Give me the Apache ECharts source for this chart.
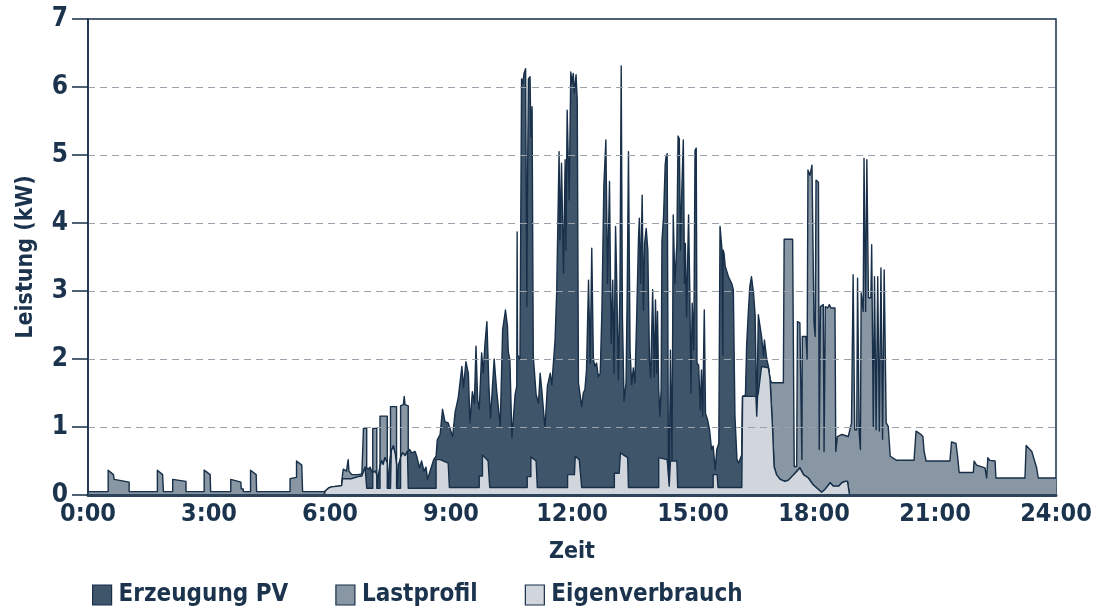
<!DOCTYPE html>
<html>
<head>
<meta charset="utf-8">
<script src="https://cdn.jsdelivr.net/npm/echarts@6/dist/echarts.min.js"></script>
<style>
  html, body { margin: 0; padding: 0; background: #ffffff; }
  #chart { width: 1100px; height: 613px; }
</style>
</head>
<body>
<div id="chart"></div>
<script>
// Tick labels of the time axis (every 3 hours)
const timeLabels = ['0:00', '3:00', '6:00', '9:00', '12:00', '15:00', '18:00', '21:00', '24:00'];

// PV generation in kW, [hour, value]
const pvData = [
  [0,0],[5.86,0],[5.88,0.06],[5.96,0.10],[6.04,0.12],[6.21,0.13],[6.29,0.14],[6.31,0.24],[6.54,0.24],[6.70,0.27],
  [6.79,0.28],[6.83,0.30],[6.87,0.41],[6.91,0.43],[6.95,0.38],[6.99,0.41],[7.03,0.36],[7.06,0.33],[7.12,0.35],[7.16,0.30],
  [7.17,0.12],[7.20,0.30],[7.24,0.42],[7.28,0.50],[7.32,0.45],[7.36,0.55],[7.42,0.47],[7.45,0.12],[7.48,0.50],[7.52,0.65],
  [7.57,0.72],[7.62,0.60],[7.65,0.45],[7.67,0.13],[7.70,0.45],[7.75,0.55],[7.80,0.62],[7.86,0.58],[7.92,0.64],[7.97,0.67],
  [8.03,0.62],[8.11,0.64],[8.15,0.57],[8.22,0.40],[8.27,0.50],[8.33,0.35],[8.38,0.41],[8.42,0.23],[8.48,0.35],[8.57,0.52],
  [8.63,0.57],[8.66,0.81],[8.73,0.89],[8.79,1.26],[8.85,1.08],[8.93,1.06],[9.04,0.86],[9.10,1.21],[9.18,1.43],[9.27,1.89],
  [9.31,1.58],[9.37,1.96],[9.43,1.79],[9.47,1.06],[9.53,1.52],[9.58,1.35],[9.62,2.19],[9.66,1.40],[9.70,1.26],[9.76,2.09],
  [9.80,1.79],[9.84,2.21],[9.89,2.55],[9.94,1.60],[9.98,1.13],[10.07,2.00],[10.13,1.55],[10.22,1.01],[10.28,2.43],[10.35,2.72],
  [10.40,2.48],[10.42,2.11],[10.46,1.99],[10.51,0.84],[10.59,1.48],[10.63,1.60],[10.64,3.87],[10.65,2.06],[10.71,1.99],[10.75,6.12],
  [10.78,6.05],[10.81,6.20],[10.85,6.27],[10.88,2.77],[10.90,4.78],[10.92,6.12],[10.96,6.15],[10.98,5.27],[11.01,5.71],[11.04,2.04],
  [11.11,1.48],[11.17,1.35],[11.21,1.79],[11.25,1.55],[11.33,0.98],[11.39,1.60],[11.46,1.79],[11.50,1.62],[11.58,2.28],[11.62,2.97],
  [11.68,5.05],[11.70,3.75],[11.74,4.88],[11.79,3.26],[11.83,4.93],[11.85,3.60],[11.88,5.66],[11.93,4.34],[11.97,6.22],[12.00,6.05],
  [12.03,6.20],[12.06,5.91],[12.10,6.18],[12.13,5.81],[12.16,1.65],[12.24,1.30],[12.28,1.50],[12.32,1.55],[12.36,1.84],[12.41,3.16],
  [12.45,1.94],[12.49,3.63],[12.53,1.99],[12.57,1.89],[12.61,1.94],[12.65,1.74],[12.70,1.79],[12.74,2.67],[12.79,4.56],[12.84,5.22],
  [12.88,3.11],[12.93,4.61],[12.97,2.23],[13.01,3.16],[13.04,1.79],[13.08,3.95],[13.11,3.11],[13.15,1.69],[13.19,3.11],[13.22,6.31],
  [13.25,2.62],[13.29,1.38],[13.34,1.65],[13.37,3.02],[13.40,5.05],[13.44,2.13],[13.48,1.62],[13.52,1.87],[13.56,1.65],[13.60,2.53],
  [13.65,3.80],[13.67,4.07],[13.70,3.11],[13.74,4.41],[13.77,2.72],[13.80,3.70],[13.84,3.92],[13.88,3.60],[13.92,1.99],[13.95,1.72],
  [14.00,3.02],[14.04,1.74],[14.07,2.87],[14.10,1.79],[14.12,2.70],[14.15,1.55],[14.18,1.16],[14.21,1.55],[14.23,3.73],[14.27,4.09],
  [14.31,4.85],[14.33,4.97],[14.36,5.02],[14.39,0.52],[14.41,0.13],[14.44,2.13],[14.48,0.52],[14.51,4.12],[14.55,3.11],[14.60,3.70],
  [14.63,5.28],[14.66,5.24],[14.69,3.60],[14.72,4.44],[14.76,5.22],[14.79,3.11],[14.81,3.70],[14.84,2.62],[14.89,4.12],[14.92,3.02],
  [14.95,1.50],[14.98,2.82],[15.02,2.13],[15.05,5.07],[15.08,5.10],[15.10,1.94],[15.14,1.91],[15.18,1.25],[15.21,1.84],[15.24,1.16],
  [15.28,2.72],[15.31,1.20],[15.36,1.11],[15.41,0.96],[15.46,0.67],[15.50,0.72],[15.55,0.37],[15.59,0.67],[15.64,0.76],[15.67,3.95],
  [15.70,3.97],[15.72,3.60],[15.74,2.06],[15.75,3.60],[15.77,3.55],[15.80,3.36],[15.88,3.21],[15.96,3.11],[16.00,3.02],[16.04,1.16],
  [16.09,0.52],[16.13,0.47],[16.17,0.49],[16.21,0.59],[16.23,1.45],[16.30,1.47],[16.33,2.20],[16.37,2.67],[16.41,3.07],[16.45,3.21],
  [16.50,2.97],[16.54,2.65],[16.58,1.16],[16.62,2.65],[16.70,2.33],[16.75,2.04],[16.77,2.28],[16.83,1.99],[16.87,1.89],[16.91,1.70],
  [16.97,1.01],[17.01,0.42],[17.07,0.30],[17.16,0.23],[17.28,0.20],[17.37,0.22],[17.45,0.27],[17.53,0.32],[17.61,0.37],[17.65,0.40],
  [17.74,0.30],[17.86,0.25],[17.98,0.15],[18.11,0.08],[18.19,0.04],[18.27,0.08],[18.40,0.18],[18.48,0.13],[18.61,0.13],[18.69,0.18],
  [18.77,0.20],[18.83,0.20],[18.88,0],[24,0]
];

// Household load profile in kW, [hour, value]
const lastData = [
  [0,0.05],[0.50,0.05],[0.50,0.365],[0.63,0.30],[0.65,0.23],[1.02,0.19],[1.02,0.05],[1.72,0.05],[1.72,0.365],[1.85,0.30],
  [1.87,0.05],[2.10,0.05],[2.10,0.23],[2.43,0.20],[2.43,0.05],[2.88,0.05],[2.88,0.365],[3.03,0.30],[3.04,0.05],[3.54,0.05],
  [3.54,0.23],[3.79,0.19],[3.80,0.09],[3.85,0.09],[3.85,0.05],[4.03,0.05],[4.03,0.365],[4.17,0.30],[4.18,0.05],[5.01,0.05],
  [5.01,0.24],[5.17,0.26],[5.17,0.50],[5.30,0.44],[5.32,0.44],[5.32,0.05],[5.88,0.05],[5.96,0.10],[6.04,0.12],[6.21,0.13],
  [6.29,0.14],[6.31,0.30],[6.33,0.38],[6.37,0.40],[6.41,0.35],[6.44,0.35],[6.45,0.52],[6.47,0.35],[6.54,0.30],[6.62,0.30],
  [6.70,0.30],[6.79,0.31],[6.83,0.31],[6.83,0.98],[6.91,0.98],[6.91,0.10],[7.06,0.10],[7.06,0.98],[7.16,0.98],[7.16,0.10],
  [7.24,0.10],[7.24,1.16],[7.42,1.16],[7.42,0.10],[7.50,0.10],[7.50,1.30],[7.65,1.30],[7.65,0.10],[7.75,0.10],[7.75,1.31],
  [7.82,1.33],[7.84,1.45],[7.86,1.33],[7.94,1.31],[7.94,0.10],[8.63,0.10],[8.63,0.52],[8.73,0.52],[8.93,0.47],[8.96,0.11],
  [9.70,0.11],[9.70,0.28],[9.78,0.28],[9.78,0.59],[9.92,0.50],[9.96,0.11],[10.89,0.11],[10.89,0.27],[10.98,0.27],[10.98,0.56],
  [11.11,0.50],[11.14,0.11],[11.89,0.11],[11.89,0.30],[12.06,0.30],[12.08,0.57],[12.18,0.52],[12.24,0.11],[13.05,0.11],[13.05,0.32],
  [13.17,0.32],[13.20,0.62],[13.38,0.55],[13.40,0.11],[14.15,0.11],[14.15,0.55],[14.60,0.50],[14.62,0.11],[15.50,0.11],[15.50,0.30],
  [15.60,0.30],[15.62,0.11],[16.21,0.11],[16.23,1.45],[16.58,1.45],[16.70,1.89],[16.87,1.87],[16.91,1.70],[16.95,1.65],[17.24,1.65],
  [17.26,3.76],[17.47,3.76],[17.51,0.42],[17.57,0.42],[17.59,2.55],[17.65,2.53],[17.69,2.53],[17.70,0.52],[17.71,2.33],[17.80,2.33],
  [17.83,2.00],[17.85,4.78],[17.90,4.70],[17.95,4.85],[17.97,4.85],[18.00,2.53],[18.03,2.33],[18.05,4.63],[18.11,4.60],[18.13,0.67],
  [18.16,2.77],[18.23,2.80],[18.25,0.64],[18.28,2.77],[18.34,2.75],[18.38,2.80],[18.42,2.75],[18.52,2.75],[18.54,0.64],[18.58,0.86],
  [18.69,0.89],[18.85,0.86],[18.93,1.06],[18.96,1.06],[18.97,3.24],[19.00,3.24],[19.01,0.96],[19.06,0.96],[19.08,3.19],[19.10,3.19],
  [19.12,0.92],[19.15,0.67],[19.17,2.97],[19.19,2.97],[19.22,2.70],[19.24,4.95],[19.26,4.95],[19.28,2.70],[19.31,4.93],[19.33,4.93],
  [19.35,2.90],[19.41,2.90],[19.43,3.68],[19.45,3.68],[19.47,1.00],[19.50,3.21],[19.52,3.21],[19.54,0.96],[19.58,3.21],[19.60,3.21],
  [19.62,0.94],[19.66,3.34],[19.68,3.34],[19.70,0.82],[19.74,3.31],[19.76,3.31],[19.79,1.06],[19.84,1.01],[19.89,0.57],[19.93,0.55],
  [20.05,0.51],[20.48,0.51],[20.53,0.94],[20.63,0.90],[20.70,0.86],[20.73,0.64],[20.78,0.50],[21.37,0.50],[21.41,0.78],[21.52,0.76],
  [21.56,0.57],[21.60,0.33],[21.95,0.33],[21.97,0.50],[22.03,0.44],[22.24,0.40],[22.28,0.25],[22.31,0.55],[22.36,0.51],[22.49,0.50],
  [22.51,0.25],[23.23,0.25],[23.26,0.73],[23.40,0.64],[23.52,0.40],[23.56,0.25],[24,0.25]
];

// Self-consumed PV power in kW, [hour, value]
const eigenData = [
  [0,0],[5.86,0],[5.88,0.06],[5.96,0.10],[6.04,0.12],[6.21,0.13],[6.29,0.14],[6.31,0.24],[6.54,0.24],[6.70,0.27],
  [6.79,0.28],[6.83,0.30],[6.87,0.41],[6.91,0.43],[6.91,0.10],[7.06,0.10],[7.06,0.33],[7.12,0.35],[7.16,0.30],[7.16,0.10],
  [7.24,0.10],[7.24,0.42],[7.28,0.50],[7.32,0.45],[7.36,0.55],[7.42,0.47],[7.42,0.10],[7.50,0.10],[7.52,0.65],[7.57,0.72],
  [7.62,0.60],[7.65,0.45],[7.65,0.10],[7.75,0.10],[7.75,0.55],[7.80,0.62],[7.86,0.58],[7.92,0.64],[7.94,0.64],[7.94,0.10],
  [8.63,0.10],[8.63,0.52],[8.73,0.52],[8.93,0.47],[8.96,0.11],[9.70,0.11],[9.70,0.28],[9.78,0.28],[9.78,0.59],[9.92,0.50],
  [9.96,0.11],[10.89,0.11],[10.89,0.27],[10.98,0.27],[10.98,0.56],[11.11,0.50],[11.14,0.11],[11.89,0.11],[11.89,0.30],[12.06,0.30],
  [12.08,0.57],[12.18,0.52],[12.24,0.11],[13.05,0.11],[13.05,0.32],[13.17,0.32],[13.20,0.62],[13.38,0.55],[13.40,0.11],[14.15,0.11],
  [14.15,0.55],[14.36,0.52],[14.39,0.50],[14.41,0.13],[14.44,0.50],[14.60,0.50],[14.62,0.11],[15.50,0.11],[15.50,0.30],[15.60,0.30],
  [15.62,0.11],[16.21,0.11],[16.23,1.45],[16.56,1.45],[16.58,1.16],[16.60,1.45],[16.62,1.50],[16.70,1.89],[16.87,1.87],[16.91,1.70],
  [16.97,1.01],[17.01,0.42],[17.07,0.30],[17.16,0.23],[17.28,0.20],[17.37,0.22],[17.45,0.27],[17.53,0.32],[17.61,0.37],[17.65,0.40],
  [17.74,0.30],[17.86,0.25],[17.98,0.15],[18.11,0.08],[18.19,0.04],[18.27,0.08],[18.40,0.18],[18.48,0.13],[18.61,0.13],[18.69,0.18],
  [18.77,0.20],[18.83,0.20],[18.88,0],[24,0]
];

const seriesNames = ['Erzeugung PV', 'Lastprofil', 'Eigenverbrauch'];

const INK = '#1b334d';
const OUTLINE = '#172f48';
const PV_FILL = '#3f556a';
const LAST_FILL = '#8996a3';
const EIGEN_FILL = '#d1d6dc';
const FONT = '"DejaVu Sans Condensed", "DejaVu Sans", sans-serif';

function areaSeries(name, data, fill, z) {
  return {
    name: name,
    type: 'line',
    data: data,
    symbol: 'none',
    z: z,
    silent: true,
    itemStyle: { color: fill },
    lineStyle: { color: OUTLINE, width: 1.4, join: 'round' },
    areaStyle: { color: fill, opacity: 1 },
    emphasis: { disabled: true }
  };
}

const chart = echarts.init(document.getElementById('chart'), null, { renderer: 'canvas' });

chart.setOption({
  animation: false,
  backgroundColor: '#ffffff',
  textStyle: { fontFamily: FONT, color: INK },
  grid: {
    left: 88, right: 44, top: 19, bottom: 118,
    show: true, borderColor: OUTLINE, borderWidth: 1.5, backgroundColor: 'transparent'
  },
  legend: {
    left: 87, top: 578,
    icon: 'rect',
    itemWidth: 19, itemHeight: 20, itemGap: 47,
    selectedMode: false,
    textStyle: { fontFamily: FONT, fontSize: 24, fontWeight: 'bold', color: INK, padding: [0, 0, 0, 2] },
    data: [
      { name: seriesNames[0], itemStyle: { color: PV_FILL, borderColor: OUTLINE, borderWidth: 1.2 } },
      { name: seriesNames[1], itemStyle: { color: LAST_FILL, borderColor: OUTLINE, borderWidth: 1.2 } },
      { name: seriesNames[2], itemStyle: { color: EIGEN_FILL, borderColor: OUTLINE, borderWidth: 1.2 } }
    ]
  },
  xAxis: {
    type: 'value',
    min: 0, max: 24, interval: 3,
    z: 10,
    name: 'Zeit',
    nameLocation: 'middle',
    nameGap: 46,
    nameTextStyle: { fontFamily: FONT, fontSize: 23, fontWeight: 'bold', color: INK },
    axisLine: { show: true, lineStyle: { color: '#2c4359', width: 3 } },
    axisTick: { show: false },
    splitLine: { show: false },
    axisLabel: {
      margin: 7,
      fontFamily: FONT, fontSize: 25, fontWeight: 'bold', color: INK,
      formatter: function (v) { return timeLabels[Math.round(v / 3)]; }
    }
  },
  yAxis: {
    type: 'value',
    min: 0, max: 7, interval: 1,
    z: 10,
    name: 'Leistung (kW)',
    nameLocation: 'middle',
    nameGap: 50,
    nameTextStyle: { fontFamily: FONT, fontSize: 23, fontWeight: 'bold', color: INK },
    axisLine: { show: true, lineStyle: { color: OUTLINE, width: 1.5 } },
    axisTick: { show: true, inside: false, length: 16, lineStyle: { color: OUTLINE, width: 1.5 } },
    splitLine: {
      show: true, showMinLine: false, showMaxLine: false,
      lineStyle: { color: '#9aa3ac', width: 1.2, type: [7, 5] }
    },
    axisLabel: { margin: 20, fontFamily: FONT, fontSize: 26, fontWeight: 'bold', color: INK }
  },
  series: [
    areaSeries(seriesNames[1], lastData, LAST_FILL, 2),
    areaSeries(seriesNames[0], pvData, PV_FILL, 3),
    areaSeries(seriesNames[2], eigenData, EIGEN_FILL, 4)
  ]
});
</script>
</body>
</html>
